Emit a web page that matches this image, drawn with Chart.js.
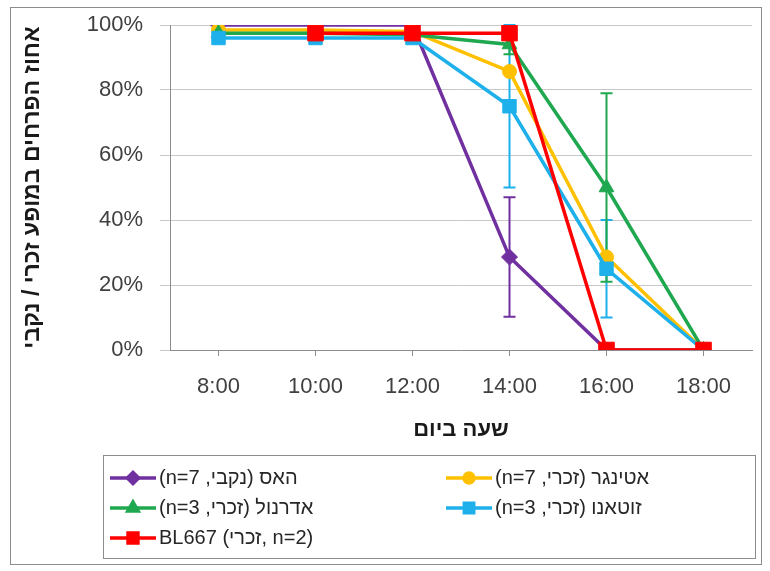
<!DOCTYPE html>
<html>
<head>
<meta charset="utf-8">
<script src="https://cdn.jsdelivr.net/npm/chart.js@4/dist/chart.umd.min.js"></script>
<style>
  body { margin: 0; background: #fff; }
  #wrap { position: relative; width: 770px; height: 571px; }
  #frame { position: absolute; left: 10px; top: 7px; width: 750px; height: 556px; border: 1px solid #8c8c8c; pointer-events: none; }
</style>
</head>
<body>
<div id="wrap">
  <canvas id="chart" width="770" height="571"></canvas>
  <div id="frame"></div>
</div>
<script>
const hours = ["8:00", "10:00", "12:00", "14:00", "16:00", "18:00"];

// percent of flowers in male / female phase
const hass = [100, 100, 100, 28.6, 0, 0];
const etinger = [98.5, 98.5, 98, 85.7, 28.6, 0];
const adranol = [97.5, 97.5, 97, 94, 50, 0];
const zutano = [96, 96, 96, 75, 25, 0];
const bl667 = [null, 97.5, 97.5, 97.5, 0, 0];

// error bar half-widths
const hassErr = [0, 0, 0, 18.4, 0, 0];
const etingerErr = [0, 0, 0, 0, 0, 0];
const adranolErr = [0, 0, 0, 3, 29, 0];
const zutanoErr = [0, 0, 0, 25, 15, 0];
const bl667Err = [0, 0, 0, 0, 0, 0];

const FONT = "'Liberation Sans', Arial, sans-serif";

function series(label, data, err, color, style, radius) {
  return {
    label: label,
    data: data,
    err: err,
    borderColor: color,
    backgroundColor: color,
    borderWidth: 3.5,
    pointStyle: style,
    pointRadius: radius,
    pointHoverRadius: radius,
    pointBorderWidth: 1,
    tension: 0
  };
}

const dsHass = series("האס (נקבי, n=7)", hass, hassErr, "#7030a0", "rectRot", 8);
const dsEtinger = series("אטינגר (זכרי, n=7)", etinger, etingerErr, "#ffc000", "circle", 7);
const dsAdranol = series("אדרנול (זכרי, n=3)", adranol, adranolErr, "#1fa84f", "triangle", 8.5);
const dsZutano = series("זוטאנו (זכרי, n=3)", zutano, zutanoErr, "#1eb0ea", "rect", 9.5);
const dsBl = series("\u202ABL667 (זכרי, n=2)\u202C", bl667, bl667Err, "#ff0000", "rect", 11);

// first dataset is drawn on top
const drawOrder = [dsBl, dsZutano, dsAdranol, dsEtinger, dsHass];
// legend layout: two columns
const legendItems = [
  [dsHass, 0, 0], [dsEtinger, 1, 0],
  [dsAdranol, 0, 1], [dsZutano, 1, 1],
  [dsBl, 0, 2]
];

const errorBars = {
  id: "errorBars",
  beforeDatasetsDraw(chart) {
    const ctx = chart.ctx;
    const y = chart.scales.y;
    chart.data.datasets.forEach((ds, i) => {
      const meta = chart.getDatasetMeta(i);
      ds.data.forEach((v, j) => {
        const e = ds.err[j];
        if (v == null || !e) return;
        const px = meta.data[j].x;
        const top = y.getPixelForValue(v + e);
        const bot = y.getPixelForValue(v - e);
        ctx.save();
        ctx.strokeStyle = ds.borderColor;
        ctx.lineWidth = 2;
        ctx.beginPath();
        ctx.moveTo(px, top); ctx.lineTo(px, bot);
        ctx.moveTo(px - 6, top); ctx.lineTo(px + 6, top);
        ctx.moveTo(px - 6, bot); ctx.lineTo(px + 6, bot);
        ctx.stroke();
        ctx.restore();
      });
    });
  }
};

const boxLegend = {
  id: "boxLegend",
  afterDraw(chart) {
    const ctx = chart.ctx;
    ctx.save();
    ctx.strokeStyle = "#8c8c8c";
    ctx.lineWidth = 1;
    ctx.strokeRect(103.5, 455.5, 652, 103);
    legendItems.forEach(([ds, col, row]) => {
      const x0 = col === 0 ? 110 : 446;
      const yy = 478 + row * 30;
      ctx.strokeStyle = ds.borderColor;
      ctx.lineWidth = 3.5;
      ctx.beginPath();
      ctx.moveTo(x0, yy); ctx.lineTo(x0 + 46, yy);
      ctx.stroke();
      ctx.fillStyle = ds.borderColor;
      Chart.helpers.drawPoint(ctx, {
        pointStyle: ds.pointStyle,
        radius: Math.min(ds.pointRadius * 0.7, 7),
        rotation: 0,
        borderWidth: 1
      }, x0 + 23, yy);
      ctx.fill();
      ctx.fillStyle = "#262626";
      ctx.font = "20px " + FONT;
      ctx.direction = "rtl";
      ctx.textAlign = "left";
      ctx.textBaseline = "middle";
      ctx.fillText(ds.label, x0 + 49, yy);
    });
    ctx.restore();
  }
};

new Chart(document.getElementById("chart"), {
  type: "line",
  data: { labels: hours, datasets: drawOrder },
  options: {
    responsive: false,
    animation: false,
    layout: { padding: { left: 10, top: 25, right: 18, bottom: 116 } },
    plugins: {
      legend: { display: false },
      tooltip: { enabled: false }
    },
    scales: {
      x: {
        offset: true,
        grid: { drawOnChartArea: false, drawTicks: true, tickLength: 6, color: "#8c8c8c" },
        border: { color: "#8c8c8c" },
        ticks: { color: "#404040", font: { family: FONT, size: 22 }, padding: 18, maxRotation: 0 },
        title: {
          display: true,
          text: "שעה ביום",
          color: "#1a1a1a",
          font: { family: FONT, size: 22, weight: "bold" },
          padding: { top: 0, bottom: 12 }
        },
        afterFit(scale) {
          scale.height = 105;
          scale.paddingLeft = 0;
          scale.paddingRight = 0;
        }
      },
      y: {
        min: 0,
        max: 100,
        grid: { color: "#c8c8c8", tickLength: 10 },
        border: { color: "#8c8c8c" },
        ticks: {
          stepSize: 20,
          color: "#404040",
          font: { family: FONT, size: 22 },
          padding: 17,
          callback: v => v + "%"
        },
        title: {
          display: true,
          text: "אחוז הפרחים במופע זכרי / נקבי",
          color: "#1a1a1a",
          font: { family: FONT, size: 23, weight: "bold" },
          padding: { top: 9, bottom: 0 }
        },
        afterFit(scale) {
          scale.width = 160;
          scale.paddingTop = 0;
          scale.paddingBottom = 0;
        }
      }
    }
  },
  plugins: [errorBars, boxLegend]
});
</script>
</body>
</html>
